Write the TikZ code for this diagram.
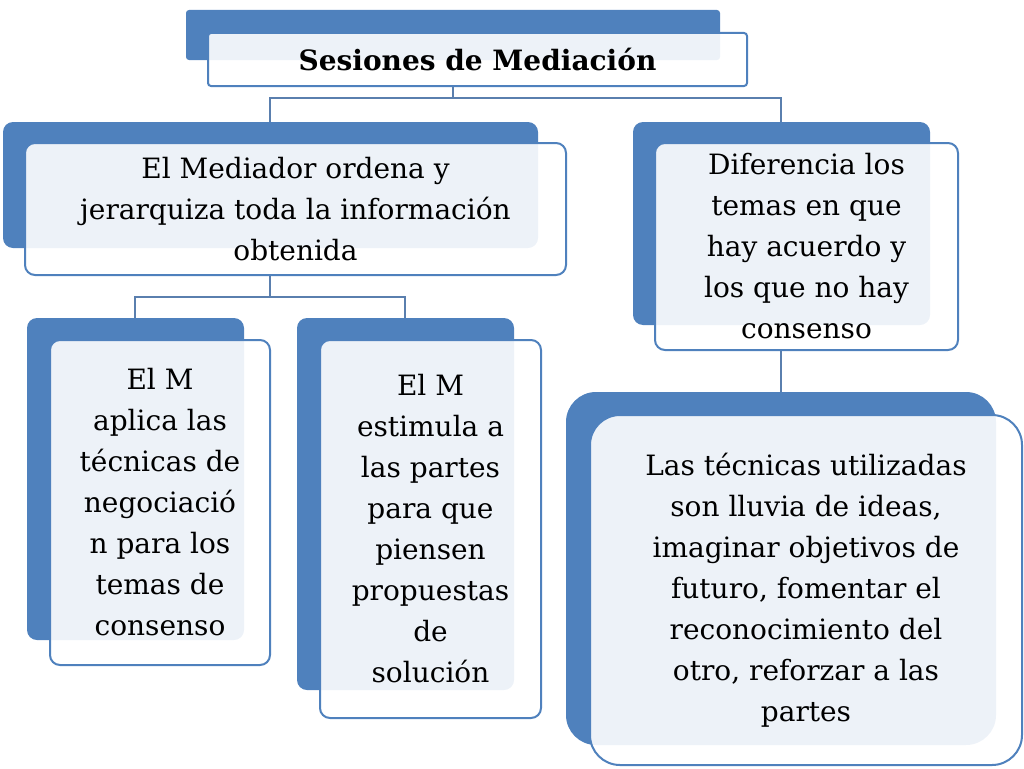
\documentclass[tikz,border=0pt]{standalone}
\usepackage{fontspec}
\setmainfont{DejaVu Serif}
\usepackage{tikz}
\tikzset{
every picture/.style={line width=1.2pt},
%%%%%%%%%% box styles
backbox/.style={fill=mblue, rounded corners=10pt},
frontbox/.style={draw=mblue, line width=2pt, fill=white, fill opacity=0.9,
                 text opacity=1, rounded corners=10pt, align=center,
                 inner sep=0pt, font=\fontsize{28}{41}\selectfont},
%%%% connector style
link/.style={draw=mline, line width=2pt}
}
\definecolor{mblue}{HTML}{4F81BD}
\definecolor{mline}{HTML}{5A7FAE}
\begin{document}
\begin{tikzpicture}[x=1pt,y=-1pt]
\useasboundingbox (0,0) rectangle (1024,768);
%%connectors first
\coordinate (t) at (453,86);
\coordinate (l) at (270,143);
\coordinate (r) at (781,143);
\draw[link] (t) -- (453,98) -| (l);
\draw[link] (453,98) -| (r);
\draw[link] (270,275) -- (270,297) -| (135,340);
\draw[link] (270,297) -| (405,340);
\draw[link] (781,350) -- (781,392);
%%back boxes
\fill[backbox, rounded corners=3pt] (186,10) rectangle (720,60);
\fill[backbox] (3,122) rectangle (538,248);
\fill[backbox] (633,122) rectangle (930,325);
\fill[backbox] (27,318) rectangle (244,640);
\fill[backbox] (297,318) rectangle (514,690);
\fill[backbox, rounded corners=30pt] (566,392) rectangle (996,745);
%%front boxes
\node[frontbox, rounded corners=3pt, minimum width=539, minimum height=53,
      font=\fontsize{28}{36}\selectfont\bfseries] (title) at (477.5,59.5)
      {Sesiones de Mediación};
\node[frontbox, minimum width=541, minimum height=132] (ordena) at (295.5,209)
      {El Mediador ordena y\\jerarquiza toda la información\\obtenida};
\node[frontbox, minimum width=303, minimum height=207] (difer) at (806.5,246.5)
      {Diferencia los\\temas en que\\hay acuerdo y\\los que no hay\\consenso};
\node[frontbox, minimum width=220, minimum height=325] (aplica) at (160,502.5)
      {El M\\aplica las\\técnicas de\\negociació\\n para los\\temas de\\consenso};
\node[frontbox, minimum width=221, minimum height=378] (estimula) at (430.5,529)
      {El M\\estimula a\\las partes\\para que\\piensen\\propuestas\\de\\solución};
\node[frontbox, rounded corners=30pt, minimum width=432, minimum height=350] (tecnicas) at (806,590)
      {Las técnicas utilizadas\\son lluvia de ideas,\\imaginar objetivos de\\futuro, fomentar el\\reconocimiento del\\otro, reforzar a las\\partes};
\end{tikzpicture}
\end{document}
